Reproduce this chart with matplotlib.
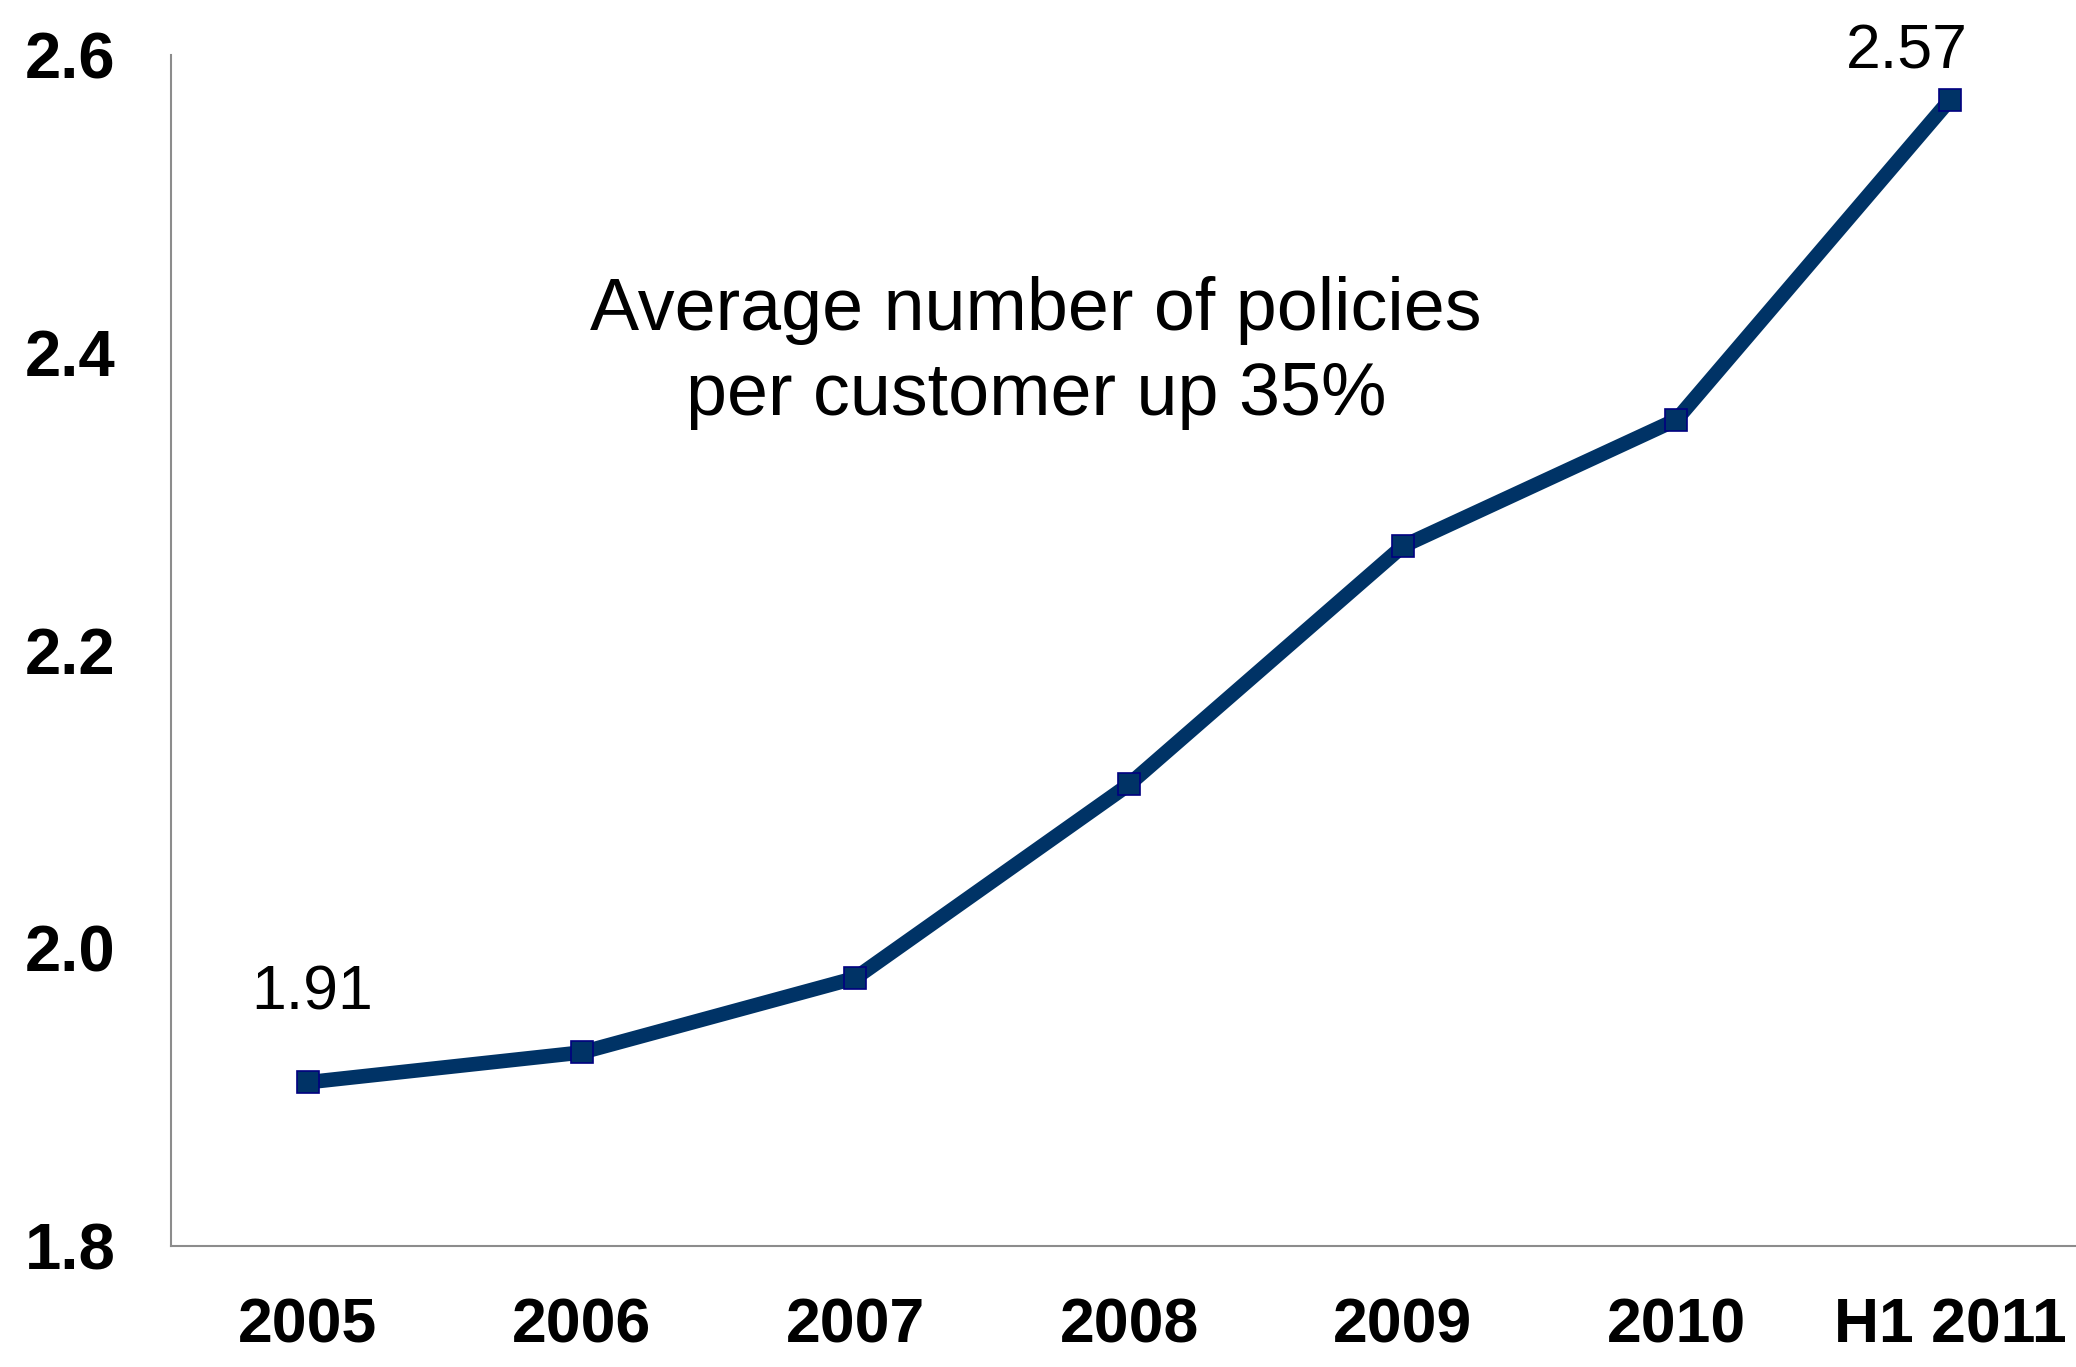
import matplotlib.pyplot as plt

# data
periods = ['2005', '2006', '2007', '2008', '2009', '2010', 'H1 2011']
policies = [1.91, 1.93, 1.98, 2.11, 2.27, 2.355, 2.57]
yticks = [1.8, 2.0, 2.2, 2.4, 2.6]

line_col = '#003366'

plt.rcParams['font.family'] = ['Liberation Sans', 'DejaVu Sans']

fig = plt.figure(figsize=(20.76, 13.67), dpi=100)
ax = fig.add_axes([0.0824, 0.0885, 0.9176, 0.8713])

x = list(range(len(periods)))
ax.plot(x, policies, color=line_col, lw=10.5, marker='s', ms=16,
        mfc=line_col, mec='#000080', mew=1.2, solid_joinstyle='miter')

ax.set_xlim(-0.5, 6.46)
ax.set_ylim(1.8, 2.6)
ax.set_xticks(x)
ax.set_xticklabels(periods, fontweight='bold', fontsize=45)
ax.set_yticks(yticks)
ax.set_yticklabels(['%.1f' % v for v in yticks], fontweight='bold', fontsize=47)
ax.tick_params(axis='both', length=0)
ax.tick_params(axis='y', pad=40)
ax.tick_params(axis='x', pad=36)

for s in ['top', 'right']:
    ax.spines[s].set_visible(False)
for s in ['left', 'bottom']:
    ax.spines[s].set_color('#8c8c8c')
    ax.spines[s].set_linewidth(1.5)

# first and last value labels
ax.annotate('1.91', (0, policies[0]), xytext=(3, 64), textcoords='offset points',
            ha='center', va='center', fontsize=45)
ax.annotate('2.57', (6, policies[-1]), xytext=(-31, 34), textcoords='offset points',
            ha='center', va='center', fontsize=45)

ax.text(2.66, 2.40, 'Average number of policies\nper customer up 35%',
        ha='center', va='center', fontsize=53, linespacing=1.3)

fig.savefig('out.png', dpi=100)
